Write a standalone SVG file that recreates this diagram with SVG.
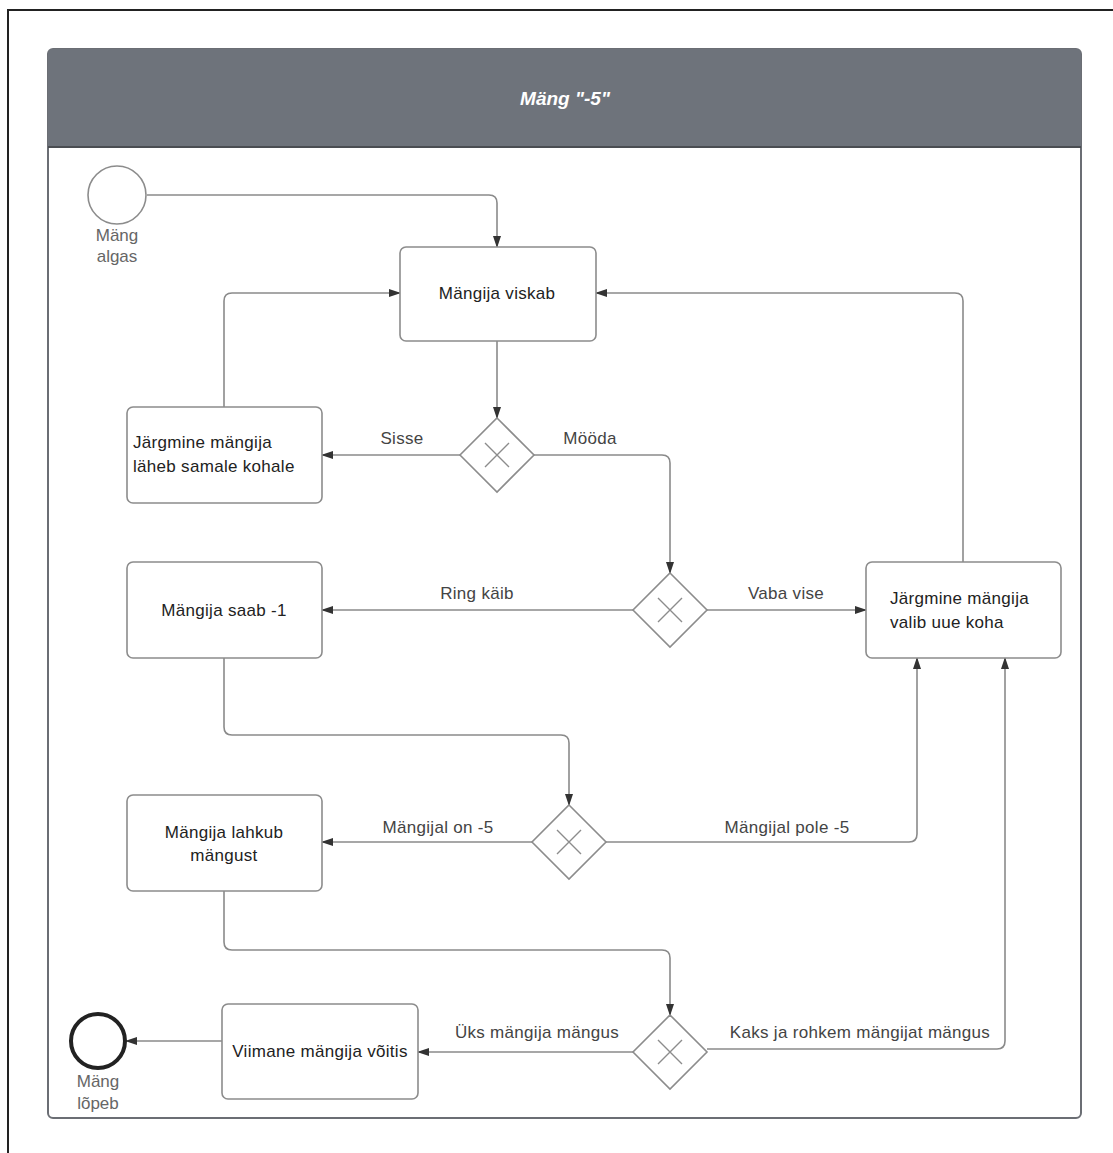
<svg xmlns="http://www.w3.org/2000/svg" width="1113" height="1153" viewBox="0 0 1113 1153">
  <style>
    .frame { fill: none; stroke: #222; stroke-width: 2; }
    .pool { fill: #ffffff; stroke: #6b6e74; stroke-width: 2; }
    .header { fill: #6e737b; }
    .title { font-family: "Liberation Sans", Arial, sans-serif; font-size: 19px; font-style: italic; font-weight: bold; fill: #ffffff; text-anchor: middle; }
    .task { fill: #ffffff; stroke: #8c8c8c; stroke-width: 1.6; }
    .gw { fill: #ffffff; stroke: #8c8c8c; stroke-width: 1.6; }
    .gwx { stroke: #8c8c8c; stroke-width: 1.4; }
    .lbl { font-family: "Liberation Sans", Arial, sans-serif; font-size: 17px; letter-spacing: 0.3px; fill: #222; }
    .mid { text-anchor: middle; }
    .elbl { font-family: "Liberation Sans", Arial, sans-serif; font-size: 17px; letter-spacing: 0.3px; fill: #444; text-anchor: middle; }
    .ev { font-family: "Liberation Sans", Arial, sans-serif; font-size: 17px; fill: #666; text-anchor: middle; }
    .conn { fill: none; stroke: #8a8a8a; stroke-width: 1.6; marker-end: url(#arrow); }
  </style>
  <defs>
    <marker id="arrow" viewBox="0 0 12 10" refX="11" refY="5" markerWidth="12" markerHeight="10" markerUnits="userSpaceOnUse" orient="auto">
      <path d="M0,1 L12,5 L0,9 Z" fill="#333"/>
    </marker>
  </defs>

  <rect width="1113" height="1153" fill="#ffffff"/>
  <!-- outer page frame -->
  <path class="frame" d="M8,1153 V10 H1113"/>

  <!-- pool with header band -->
  <g id="pool">
    <rect class="pool" x="48" y="49" width="1033" height="1069" rx="5"/>
    <path class="header" d="M53,49 H1076 Q1081,49 1081,54 V147 H48 V54 Q48,49 53,49 Z"/>
    <line x1="48" y1="147" x2="1081" y2="147" stroke="#4a4d52" stroke-width="2"/>
    <text class="title" x="565" y="105">Mäng "-5"</text>
  </g>

  <!-- connectors -->
  <g id="connectors">
    <path class="conn" d="M147,195 H489 Q497,195 497,203 V247"/>
    <path class="conn" d="M224,407 V301 Q224,293 232,293 H400"/>
    <path class="conn" d="M963,562 V301 Q963,293 955,293 H596"/>
    <path class="conn" d="M497,341 V418"/>
    <path class="conn" d="M460,455 H322"/>
    <path class="conn" d="M534,455 H662 Q670,455 670,463 V573"/>
    <path class="conn" d="M633,610 H322"/>
    <path class="conn" d="M707,610 H866"/>
    <path class="conn" d="M224,658 V727 Q224,735 232,735 H561 Q569,735 569,743 V805"/>
    <path class="conn" d="M532,842 H322"/>
    <path class="conn" d="M606,842 H909 Q917,842 917,834 V658"/>
    <path class="conn" d="M224,891 V942 Q224,950 232,950 H662 Q670,950 670,958 V1015"/>
    <path class="conn" d="M633,1052 H418"/>
    <path class="conn" d="M707,1049 H997 Q1005,1049 1005,1041 V658"/>
    <path class="conn" d="M222,1041 H126"/>

    <text class="elbl" x="402" y="444">Sisse</text>
    <text class="elbl" x="590" y="444">Mööda</text>
    <text class="elbl" x="477" y="599">Ring käib</text>
    <text class="elbl" x="786" y="599">Vaba vise</text>
    <text class="elbl" x="438" y="833">Mängijal on -5</text>
    <text class="elbl" x="787" y="833">Mängijal pole -5</text>
    <text class="elbl" x="537" y="1038">Üks mängija mängus</text>
    <text class="elbl" x="860" y="1038">Kaks ja rohkem mängijat mängus</text>
  </g>

  <!-- start event -->
  <g id="start">
    <circle cx="117" cy="195" r="29" fill="#ffffff" stroke="#8c8c8c" stroke-width="1.6"/>
    <text class="ev" x="117" y="241">Mäng</text>
    <text class="ev" x="117" y="262">algas</text>
  </g>

  <!-- end event -->
  <g id="end">
    <circle cx="98" cy="1041" r="27" fill="#ffffff" stroke="#222" stroke-width="4"/>
    <text class="ev" x="98" y="1087">Mäng</text>
    <text class="ev" x="98" y="1109">lõpeb</text>
  </g>

  <!-- tasks -->
  <g id="task-viskab">
    <rect class="task" x="400" y="247" width="196" height="94" rx="6"/>
    <text class="lbl mid" x="497" y="299">Mängija viskab</text>
  </g>
  <g id="task-samale">
    <rect class="task" x="127" y="407" width="195" height="96" rx="6"/>
    <text class="lbl" x="133" y="448">Järgmine mängija</text>
    <text class="lbl" x="133" y="472">läheb samale kohale</text>
  </g>
  <g id="task-saab">
    <rect class="task" x="127" y="562" width="195" height="96" rx="6"/>
    <text class="lbl mid" x="224" y="616">Mängija saab -1</text>
  </g>
  <g id="task-uue-koha">
    <rect class="task" x="866" y="562" width="195" height="96" rx="6"/>
    <text class="lbl" x="890" y="604">Järgmine mängija</text>
    <text class="lbl" x="890" y="628">valib uue koha</text>
  </g>
  <g id="task-lahkub">
    <rect class="task" x="127" y="795" width="195" height="96" rx="6"/>
    <text class="lbl mid" x="224" y="838">Mängija lahkub</text>
    <text class="lbl mid" x="224" y="861">mängust</text>
  </g>
  <g id="task-voitis">
    <rect class="task" x="222" y="1004" width="196" height="95" rx="6"/>
    <text class="lbl mid" x="320" y="1057">Viimane mängija võitis</text>
  </g>

  <!-- exclusive gateways -->
  <g id="gw-sisse">
    <path class="gw" d="M497,418 L534,455 L497,492 L460,455 Z"/>
    <path class="gwx" d="M485,443 L509,467 M509,443 L485,467"/>
  </g>
  <g id="gw-ring">
    <path class="gw" d="M670,573 L707,610 L670,647 L633,610 Z"/>
    <path class="gwx" d="M658,598 L682,622 M682,598 L658,622"/>
  </g>
  <g id="gw-miinus5">
    <path class="gw" d="M569,805 L606,842 L569,879 L532,842 Z"/>
    <path class="gwx" d="M557,830 L581,854 M581,830 L557,854"/>
  </g>
  <g id="gw-mangijaid">
    <path class="gw" d="M670,1015 L707,1052 L670,1089 L633,1052 Z"/>
    <path class="gwx" d="M658,1040 L682,1064 M682,1040 L658,1064"/>
  </g>
</svg>
